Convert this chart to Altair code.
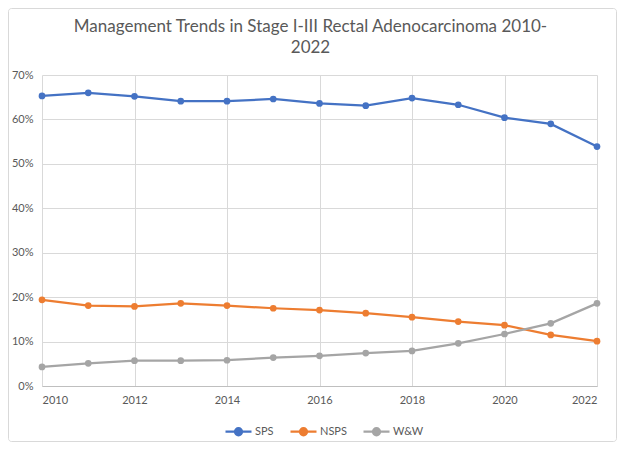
import altair as alt
import pandas as pd

years = list(range(2010, 2023))
sps = [65.3, 66.0, 65.2, 64.1, 64.1, 64.6, 63.6, 63.1, 64.8, 63.3, 60.4, 59.0, 53.9]
nsps = [19.4, 18.1, 17.9, 18.6, 18.1, 17.5, 17.1, 16.4, 15.5, 14.5, 13.7, 11.5, 10.1]
ww = [4.3, 5.1, 5.7, 5.7, 5.8, 6.4, 6.8, 7.4, 7.9, 9.6, 11.7, 14.1, 18.6]
series = ["SPS", "NSPS", "W&W"]
colors = ["#4472C4", "#ED7D31", "#A5A5A5"]
title_lines = ["Management Trends in Stage I-III Rectal Adenocarcinoma 2010-", "2022"]

rows = []
for name, vals in zip(series, [sps, nsps, ww]):
    for y, v in zip(years, vals):
        rows.append({"Year": y, "Series": name, "Value": v / 100})
df = pd.DataFrame(rows)

FONT = "Lato"
GREY = "#595959"

color = alt.Color(
    "Series:N",
    scale=alt.Scale(domain=series, range=colors),
    sort=series,
    legend=alt.Legend(
        title=None,
        orient="none",
        direction="horizontal",
        legendX=182,
        legendY=342,
        symbolType="M -1 0 L 1 0 M -0.27 0 A 0.27 0.27 0 1 1 0.27 0 A 0.27 0.27 0 1 1 -0.27 0 Z",
        symbolSize=676,
        symbolStrokeWidth=2.25,
        labelFont=FONT,
        labelFontSize=11,
        labelColor=GREY,
        labelOffset=2,
        columnPadding=12,
        padding=0,
    ),
)

x = alt.X(
    "Year:Q",
    scale=alt.Scale(domain=[2010, 2022], nice=False, zero=False),
    axis=alt.Axis(
        title=None,
        values=list(range(2010, 2023, 2)),
        format="d",
        grid=True,
        gridColor="#d9d9d9",
        domainColor="#bfbfbf",
        ticks=False,
        labelPadding=8,
        labelFont=FONT,
        labelFontSize=11,
        labelColor=GREY,
    ),
)
y = alt.Y(
    "Value:Q",
    scale=alt.Scale(domain=[0, 0.7], nice=False),
    axis=alt.Axis(
        title=None,
        values=[i / 10 for i in range(8)],
        format=".0%",
        grid=True,
        gridColor="#d9d9d9",
        domain=False,
        ticks=False,
        labelPadding=9,
        labelFont=FONT,
        labelFontSize=11,
        labelColor=GREY,
    ),
)

base = alt.Chart(df)
lines = base.mark_line(strokeWidth=2.25).encode(x=x, y=y, color=color, detail="Series:N")
points = base.mark_point(filled=True, size=45, opacity=1).encode(x=x, y=y, color=color)

one = pd.DataFrame({"a": [0]})
border = alt.Chart(one).mark_rect(
    fill=None, stroke="#d9d9d9", strokeWidth=1, cornerRadius=3
).encode(
    x=alt.value(-33.5), x2=alt.value(574.5), y=alt.value(-66.5), y2=alt.value(366.5)
)

title1 = alt.Chart(one).mark_text(
    text=title_lines[0], font=FONT, fontSize=17, color=GREY, align="center", baseline="alphabetic"
).encode(x=alt.value(268.5), y=alt.value(-43))
title2 = alt.Chart(one).mark_text(
    text=title_lines[1], font=FONT, fontSize=17, color=GREY, align="center", baseline="alphabetic"
).encode(x=alt.value(268.5), y=alt.value(-22))

chart = alt.layer(border, title1, title2, lines, points).properties(
    width=555,
    height=311,
    padding={"left": 34, "top": 67, "right": 20, "bottom": 56},
    autosize=alt.AutoSizeParams(type="none"),
).configure_view(stroke=None)

chart.save("out.html", embed_options={"renderer": "svg", "actions": False})
